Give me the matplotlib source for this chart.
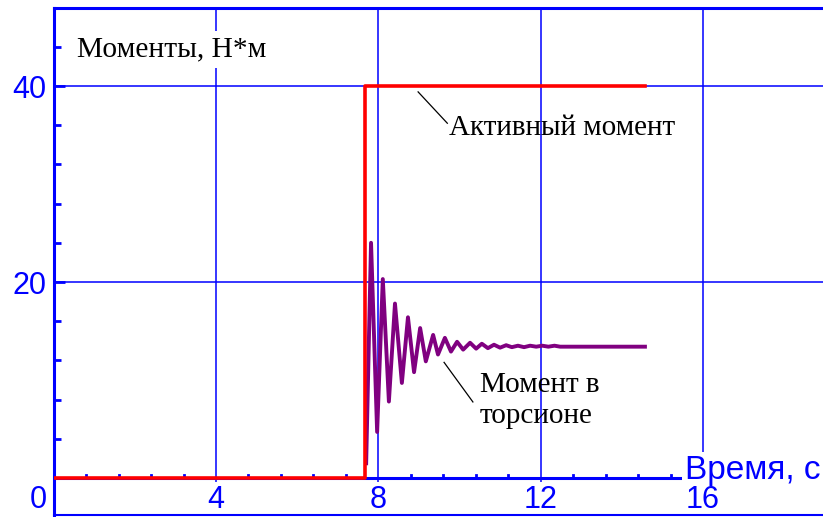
import matplotlib
matplotlib.use("Agg")
import matplotlib.pyplot as plt
from matplotlib.ticker import FixedLocator, NullFormatter

# ---- data ----
active_t = [0.0, 7.66, 7.66, 14.57]
active_v = [0.0, 0.0, 40.0, 40.0]

torsion_t = [7.70, 7.82, 7.97, 8.11, 8.26, 8.41, 8.58, 8.73, 8.88, 9.03, 9.17,
             9.35, 9.47, 9.64, 9.79, 9.94, 10.09, 10.26, 10.41, 10.55, 10.70,
             10.85, 11.00, 11.15, 11.29, 11.44, 11.59, 11.74, 11.89, 12.04,
             12.19, 12.34, 12.48, 14.57]
torsion_v = [1.5, 24.0, 4.7, 20.3, 7.8, 17.8, 9.7, 16.4, 10.8, 15.3, 11.9,
             14.6, 12.6, 14.3, 12.9, 13.9, 13.1, 13.8, 13.2, 13.7, 13.25,
             13.6, 13.3, 13.55, 13.35, 13.5, 13.35, 13.5, 13.4, 13.5,
             13.4, 13.5, 13.4, 13.4]

x_major = [4, 8, 12, 16]
x_major_labels = ["4", "8", "12", "16"]
x_minor = [0.8 * i for i in range(1, 20) if i % 5 != 0]
y_major = [20, 40]
y_major_labels = ["20", "40"]
y_minor = [4, 8, 12, 16, 24, 28, 32, 36, 44]
x_axis_end = 15.48

BLUE = "#0000ff"
W, H = 823, 517
fig = plt.figure(figsize=(W / 100, H / 100), dpi=100)
x0px, x1px = 53.7, 823.0
ytop, ybot = 8.0, 515.0
ax = fig.add_axes([x0px / W, (H - ybot) / H, (x1px - x0px) / W, (ybot - ytop) / H])
ax.set_xlim(0, (x1px - x0px) / 40.58)
ymax = (478 - ytop) / 9.8
ax.set_ylim(-(ybot - 478) / 9.8, ymax)

for s in ["left", "top", "bottom"]:
    ax.spines[s].set_color(BLUE)
    ax.spines[s].set_linewidth(2.2)
ax.spines["right"].set_visible(False)
ax.spines["bottom"].set_linewidth(1.5)

ax.xaxis.set_major_locator(FixedLocator(x_major))
ax.xaxis.set_minor_locator(FixedLocator(x_minor))
ax.yaxis.set_major_locator(FixedLocator(y_major))
ax.yaxis.set_minor_locator(FixedLocator(y_minor))
ax.set_yticklabels(y_major_labels)
ax.yaxis.set_minor_formatter(NullFormatter())

ax.tick_params(axis="x", which="both", bottom=False, labelbottom=False)
ax.tick_params(axis="y", which="major", direction="in", length=8, width=2,
               color=BLUE, labelcolor=BLUE, labelsize=22, pad=5)
ax.tick_params(axis="y", which="minor", direction="in", length=5, width=2, color=BLUE)
for lab in ax.get_yticklabels():
    lab.set_fontfamily("Liberation Sans")

ax.grid(True, axis="y", which="major", color=BLUE, linewidth=1.1, zorder=1)
ax.set_axisbelow(True)
ax.vlines(x_major, -0.4, ymax, color=BLUE, linewidth=1.1, zorder=1)

# x axis at zero
ax.plot([0, x_axis_end], [0, 0], color=BLUE, lw=2.2, zorder=2, solid_capstyle="butt")
for xm in x_minor:
    if xm < x_axis_end:
        ax.plot([xm, xm], [0, 0.3], color=BLUE, lw=2, zorder=2)
for xm, lab in zip(x_major, x_major_labels):
    ax.text(xm, -2.2, lab, color=BLUE, fontsize=22, family="Liberation Sans",
            ha="center", va="center", zorder=8)
ax.annotate("0", xy=(0, -2.2), xytext=(-5, 0), textcoords="offset points",
            color=BLUE, fontsize=22, family="Liberation Sans",
            ha="right", va="center", annotation_clip=False)

ax.plot(torsion_t, torsion_v, color="#800080", lw=2.8, zorder=4)
ax.plot(active_t, active_v, color="#ff0000", lw=2.6, zorder=5)

ax.text(0.57, 43.0, "Моменты, Н*м", family="Liberation Serif", fontsize=21.2,
        va="baseline", ha="left", color="black", zorder=6,
        bbox=dict(facecolor="white", edgecolor="none", pad=4))
ax.text(9.74, 35.0, "Активный момент", family="Liberation Serif", fontsize=21,
        va="baseline", ha="left", color="black", zorder=6)
ax.text(10.5, 8.8, "Момент в", family="Liberation Serif", fontsize=21,
        va="baseline", ha="left", color="black", zorder=6)
ax.text(10.5, 5.6, "торсионе", family="Liberation Serif", fontsize=21,
        va="baseline", ha="left", color="black", zorder=6)
ax.plot([8.98, 9.70], [39.4, 36.2], color="black", lw=0.9, zorder=6)
ax.plot([9.62, 10.33], [11.8, 7.76], color="black", lw=0.9, zorder=6)

ax.text(15.56, 0.75, "Время, с", family="Liberation Sans", fontsize=24,
        color=BLUE, ha="left", va="center", zorder=6, clip_on=False,
        bbox=dict(facecolor="white", edgecolor="none", pad=2))

fig.savefig("out.png", dpi=100)
